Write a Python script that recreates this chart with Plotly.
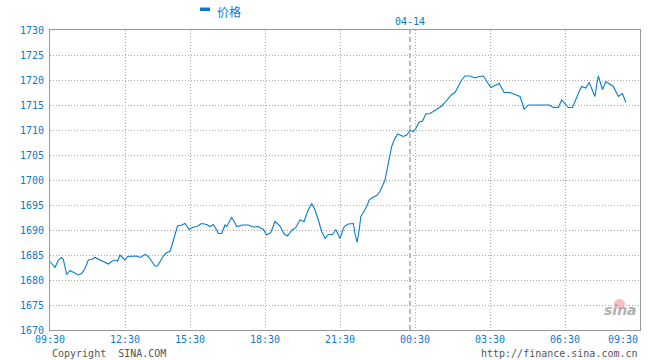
import plotly.graph_objects as go

# minute index since 09:30 (trading-minute scale) and price
t = [0, 12, 20, 28, 32, 40, 48, 56, 68, 76, 84, 92, 100, 108, 116, 128, 140, 148, 154, 162,
     168, 174, 180, 186, 196, 208, 216, 228, 236, 244, 252, 258, 264, 272, 280, 288, 294, 300,
     306, 316, 324, 328, 334, 342, 352, 364, 376, 384, 392, 400, 404, 412, 420, 424, 430, 436,
     442, 448, 462, 476, 488, 500, 512, 520, 530, 540, 552, 562, 570, 580, 590, 600, 610, 618,
     628, 636, 644, 652, 660, 668, 678, 686, 696, 706, 716, 728, 732, 737, 742, 746, 752, 760,
     766, 774, 784, 792, 804, 810, 814, 820, 826, 834, 840, 848, 856, 864, 872, 878, 886, 894,
     902, 912, 920, 930, 940, 948, 956, 964, 972, 980, 988, 996, 1008, 1020, 1030, 1040, 1048,
     1058, 1068, 1078, 1090, 1104, 1116, 1128, 1134, 1138, 1148, 1168, 1198, 1208, 1220, 1228,
     1236, 1244, 1254, 1262, 1270, 1276, 1286, 1294, 1302, 1308, 1312, 1316, 1320, 1326, 1334,
     1344, 1352, 1358, 1364, 1374, 1382]
price = [1683.7, 1682.5, 1684.0, 1684.5, 1684.1, 1681.1, 1681.9, 1681.5, 1681.0, 1681.3,
         1682.3, 1684.0, 1684.1, 1684.5, 1684.2, 1683.7, 1683.2, 1683.7, 1684.0, 1683.8,
         1685.0, 1684.5, 1684.0, 1684.7, 1684.8, 1684.8, 1684.5, 1685.1, 1684.7, 1683.7,
         1682.8, 1682.8, 1683.7, 1684.8, 1685.5, 1685.7, 1687.3, 1689.0, 1690.8, 1691.0,
         1691.3, 1690.8, 1690.1, 1690.5, 1690.7, 1691.3, 1691.1, 1690.7, 1691.1, 1690.0,
         1689.3, 1689.3, 1691.0, 1690.7, 1691.7, 1692.5, 1691.7, 1690.7, 1691.0, 1691.0,
         1690.6, 1690.7, 1690.1, 1689.0, 1689.5, 1691.7, 1690.8, 1689.2, 1688.8, 1689.9,
         1690.5, 1692.0, 1691.7, 1693.7, 1695.3, 1694.0, 1692.0, 1689.7, 1688.3, 1689.1,
         1689.1, 1690.1, 1688.3, 1690.7, 1691.2, 1691.3, 1689.3, 1687.5, 1690.0, 1692.7,
         1693.5, 1694.7, 1696.0, 1696.5, 1696.9, 1697.7, 1700.0, 1702.7, 1704.7, 1706.7,
         1708.0, 1709.2, 1709.0, 1708.7, 1709.0, 1709.9, 1709.7, 1710.3, 1711.6, 1711.8,
         1713.2, 1713.3, 1713.7, 1714.3, 1714.8, 1715.5, 1716.3, 1717.1, 1717.5, 1718.7,
         1720.0, 1720.8, 1720.8, 1720.4, 1720.7, 1720.8, 1719.7, 1718.5, 1718.9, 1719.3,
         1717.5, 1717.5, 1717.1, 1716.7, 1715.3, 1714.1, 1715.0, 1715.0, 1715.0, 1714.5,
         1714.5, 1716.0, 1715.2, 1714.5, 1714.5, 1716.3, 1717.7, 1718.7, 1718.4, 1719.5,
         1717.7, 1716.7, 1719.0, 1720.8, 1719.7, 1718.1, 1719.7, 1719.2, 1718.7, 1717.7,
         1716.7, 1717.3, 1715.5]

x_tick_vals = [0, 180, 336, 516, 696, 876, 1056, 1236, 1416]
x_tick_text = ["09:30", "12:30", "15:30", "18:30", "21:30", "00:30", "03:30", "06:30", "09:30"]
y_ticks = [1670, 1675, 1680, 1685, 1690, 1695, 1700, 1705, 1710, 1715, 1720, 1725, 1730]
day_break = 864
day_label = "04-14"
series_name = "价格"

BLUE = "#0a7bcc"
GRID = "#aaaaaa"
FRAME = "#999999"
MONO = "DejaVu Sans Mono"

fig = go.Figure()
fig.add_trace(go.Scatter(x=t, y=price, mode="lines", name=series_name,
                         line=dict(color=BLUE, width=1.1), showlegend=False))

fig.update_layout(
    width=660, height=360,
    margin=dict(l=50, r=20, t=30, b=30),
    paper_bgcolor="white", plot_bgcolor="white",
    xaxis=dict(range=[0, 1416], tickvals=x_tick_vals,
               ticktext=x_tick_text[:-1] + [""],
               showgrid=True, gridcolor=GRID, griddash="1px,2px", gridwidth=1,
               showline=True, linecolor=FRAME, linewidth=1, mirror=True,
               ticks="", zeroline=False,
               tickfont=dict(family=MONO, size=10, color=BLUE)),
    yaxis=dict(range=[1670, 1730], tickvals=y_ticks,
               showgrid=True, gridcolor=GRID, griddash="1px,2px", gridwidth=1,
               showline=True, linecolor=FRAME, linewidth=1, mirror=True,
               ticks="", zeroline=False, ticklabelstandoff=3,
               tickfont=dict(family=MONO, size=10, color=BLUE)),
)

# day boundary dashed line
fig.add_shape(type="line", xref="x", yref="paper", x0=day_break, x1=day_break, y0=0, y1=1,
              line=dict(color=GRID, width=1.5, dash="5px,3px"))

# last x tick label right aligned
fig.add_annotation(x=x_tick_vals[-1], xref="x", y=0, yref="paper", text=x_tick_text[-1],
                   showarrow=False, xanchor="right", yanchor="top", yshift=-2,
                   font=dict(family=MONO, size=10, color=BLUE))

# day label
fig.add_annotation(x=day_break, xref="x", y=1.0, yref="paper", text=day_label,
                   showarrow=False, xanchor="center", yanchor="bottom", yshift=1,
                   font=dict(family=MONO, size=10, color=BLUE))

# legend-like marker
fig.add_shape(type="rect", xref="paper", yref="paper",
              x0=(200 - 50) / 590, x1=(210 - 50) / 590,
              y0=(330 - 11) / 300, y1=(330 - 7.5) / 300,
              fillcolor=BLUE, line=dict(width=0))
fig.add_annotation(x=(215 - 50) / 590, xref="paper", y=(330 - 11.5) / 300, yref="paper",
                   text=series_name, showarrow=False, xanchor="left", yanchor="middle",
                   font=dict(family="Noto Sans CJK SC", size=12, color=BLUE))

# footer texts
fig.add_annotation(x=0, xref="paper", y=(330 - 353) / 300, yref="paper",
                   text="Copyright  SINA.COM", showarrow=False, xanchor="left", yanchor="middle",
                   font=dict(family=MONO, size=10, color="#555555"))
fig.add_annotation(x=1, xref="paper", y=(330 - 353) / 300, yref="paper",
                   text="http://finance.sina.com.cn", showarrow=False, xanchor="right",
                   yanchor="middle", font=dict(family=MONO, size=10, color="#555555"))

# sina watermark
fig.add_shape(type="circle", xref="paper", yref="paper",
              x0=(614 - 50) / 590, x1=(625 - 50) / 590,
              y0=(330 - 309) / 300, y1=(330 - 299) / 300,
              fillcolor="rgba(240,150,160,0.6)", line=dict(width=0))
fig.add_annotation(x=(620 - 50) / 590, xref="paper", y=(330 - 310) / 300, yref="paper",
                   text="<b><i>sina</i></b>", showarrow=False, xanchor="center", yanchor="middle",
                   font=dict(family="DejaVu Sans", size=14, color="#b0b0b0"))

fig.write_html("out.html", config={"displayModeBar": False},
               post_script="document.body.style.margin='0';")
